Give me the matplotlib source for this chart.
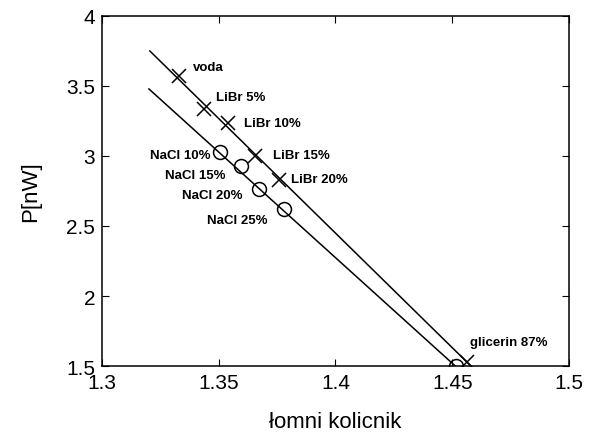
import numpy as np
import matplotlib
matplotlib.use("Agg")
import matplotlib.pyplot as plt

plt.rcParams['font.family'] = ['Liberation Sans', 'DejaVu Sans']

# measured points: refractive index vs. power
libr_n = [1.3329, 1.3436, 1.3538, 1.3654, 1.3756, 1.4564]
libr_p = [3.571, 3.336, 3.236, 3.000, 2.829, 1.529]
libr_lbl = ["voda", "LiBr 5%", "LiBr 10%", "LiBr 15%", "LiBr 20%", "glicerin 87%"]

nacl_n = [1.3504, 1.3594, 1.3671, 1.3778, 1.4517]
nacl_p = [3.029, 2.929, 2.764, 2.621, 1.500]
nacl_lbl = ["NaCl 10%", "NaCl 15%", "NaCl 20%", "NaCl 25%", ""]

# fitted lines (end points)
fit_upper_n = [1.3205, 1.4580]
fit_upper_p = [3.750, 1.500]
fit_lower_n = [1.3201, 1.4513]
fit_lower_p = [3.479, 1.500]

# label offsets in pixels
libr_off = [(14, 9), (12, 12), (16, 0), (18, 1), (12, 1), (3, 20)]
nacl_off = [(-9, -3), (-15, -9), (-16, -6), (-16, -11), (0, 0)]

fig = plt.figure(figsize=(5.95, 4.39), dpi=100)
ax = fig.add_axes([0.1714, 0.164, 0.7849, 0.7973])

ax.plot(fit_upper_n, fit_upper_p, color='black', lw=1.1)
ax.plot(fit_lower_n, fit_lower_p, color='black', lw=1.1)
ax.plot(libr_n, libr_p, 'x', color='black', ms=10, mew=1.1)
ax.plot(nacl_n, nacl_p, 'o', mfc='none', mec='black', ms=10, mew=1.1)

for n, p, t, (dx, dy) in zip(libr_n, libr_p, libr_lbl, libr_off):
    ax.annotate(t, (n, p), xytext=(dx, dy), textcoords='offset pixels',
                ha='left', va='center', fontsize=9.5, fontweight='bold')
for n, p, t, (dx, dy) in zip(nacl_n, nacl_p, nacl_lbl, nacl_off):
    if t:
        ax.annotate(t, (n, p), xytext=(dx, dy), textcoords='offset pixels',
                    ha='right', va='center', fontsize=9.5, fontweight='bold')

ax.set_xlim(1.3, 1.5)
ax.set_ylim(1.5, 4)
ax.set_xticks([1.3, 1.35, 1.4, 1.45, 1.5])
ax.set_xticklabels(["1.3", "1.35", "1.4", "1.45", "1.5"])
ax.set_yticks([1.5, 2, 2.5, 3, 3.5, 4])
ax.set_yticklabels(["1.5", "2", "2.5", "3", "3.5", "4"])
ax.tick_params(direction='in', length=5, top=True, right=True, labelsize=15, pad=5)
for s in ax.spines.values():
    s.set_linewidth(1.1)

ax.set_xlabel("łomni kolicnik", fontsize=16, labelpad=14)
ax.set_ylabel("P[nW]", fontsize=16, labelpad=18)

fig.savefig("out.png", dpi=100)
